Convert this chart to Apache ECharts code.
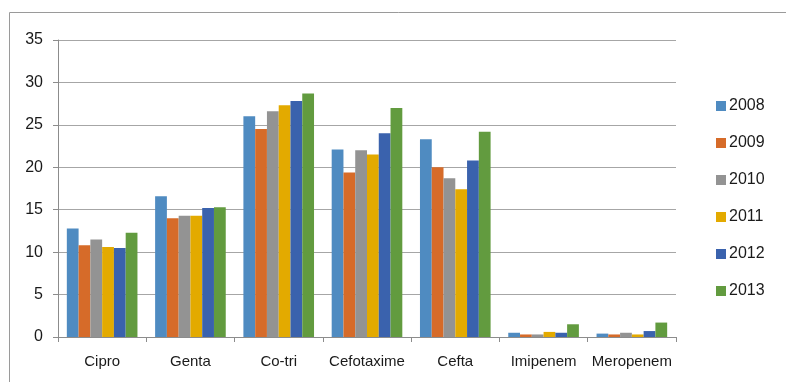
<!DOCTYPE html>
<html>
<head>
<meta charset="utf-8">
<script src="https://cdn.jsdelivr.net/npm/echarts@6/dist/echarts.min.js"></script>
<style>
  html, body { margin: 0; padding: 0; background: #fff; }
  #chart { width: 786px; height: 382px; }
</style>
</head>
<body>
<div id="chart"></div>
<script>
// Antibiotic categories along the x axis
const categories = ['Cipro', 'Genta', 'Co-tri', 'Cefotaxime', 'Cefta', 'Imipenem', 'Meropenem'];
const years = ['2008', '2009', '2010', '2011', '2012', '2013'];
const yTicks = { min: 0, max: 35, interval: 5 };

// Values per year, in category order
const v2008 = [12.8, 16.6, 26.0, 22.1, 23.3, 0.5, 0.4];
const v2009 = [10.8, 14.0, 24.5, 19.4, 20.0, 0.3, 0.3];
const v2010 = [11.5, 14.3, 26.6, 22.0, 18.7, 0.3, 0.5];
const v2011 = [10.6, 14.3, 27.3, 21.5, 17.4, 0.6, 0.3];
const v2012 = [10.5, 15.2, 27.8, 24.0, 20.8, 0.5, 0.7];
const v2013 = [12.3, 15.3, 28.7, 27.0, 24.2, 1.5, 1.7];

const seriesValues = [v2008, v2009, v2010, v2011, v2012, v2013];
const colors = ['#4F8BC1', '#D66B29', '#939393', '#E3AA00', '#3A62AD', '#629B3F'];

const FONT = '"Liberation Sans", Arial, sans-serif';

const chart = echarts.init(document.getElementById('chart'), null, { renderer: 'canvas' });

chart.setOption({
  animation: false,
  backgroundColor: '#ffffff',
  color: colors,
  textStyle: { fontFamily: FONT },
  graphic: [{
    type: 'rect',
    left: 7, top: 10,
    shape: { width: 800, height: 400 },
    style: { fill: 'none', stroke: '#9a9a9a', lineWidth: 1 },
    silent: true
  }],
  grid: { left: 58, right: 110, top: 40, bottom: 45 },
  legend: {
    orient: 'vertical',
    left: 711,
    top: 93,
    itemWidth: 10,
    itemHeight: 10,
    itemGap: 21,
    icon: 'rect',
    data: years,
    textStyle: { fontFamily: FONT, fontSize: 16, color: '#1a1a1a', lineHeight: 16, padding: [0, 0, 0, -2] }
  },
  xAxis: {
    type: 'category',
    data: categories,
    axisLine: { show: true, lineStyle: { color: '#8c8c8c', width: 1 } },
    axisTick: { show: true, length: 5, lineStyle: { color: '#8c8c8c' } },
    axisLabel: { interval: 0, fontFamily: FONT, color: '#1a1a1a', fontSize: 15, margin: 17 },
    splitLine: { show: false }
  },
  yAxis: {
    type: 'value',
    min: yTicks.min,
    max: yTicks.max,
    interval: yTicks.interval,
    axisLine: { show: true, lineStyle: { color: '#8c8c8c', width: 1 } },
    axisTick: { show: true, length: 5, lineStyle: { color: '#8c8c8c' } },
    axisLabel: { fontFamily: FONT, color: '#1a1a1a', fontSize: 16, margin: 15 },
    splitLine: { show: true, lineStyle: { color: '#a6a6a6', width: 1 } }
  },
  series: years.map((y, i) => ({
    name: y,
    type: 'bar',
    data: seriesValues[i],
    barGap: '0%',
    barCategoryGap: '20%',
    itemStyle: { color: colors[i] }
  }))
});
</script>
</body>
</html>
